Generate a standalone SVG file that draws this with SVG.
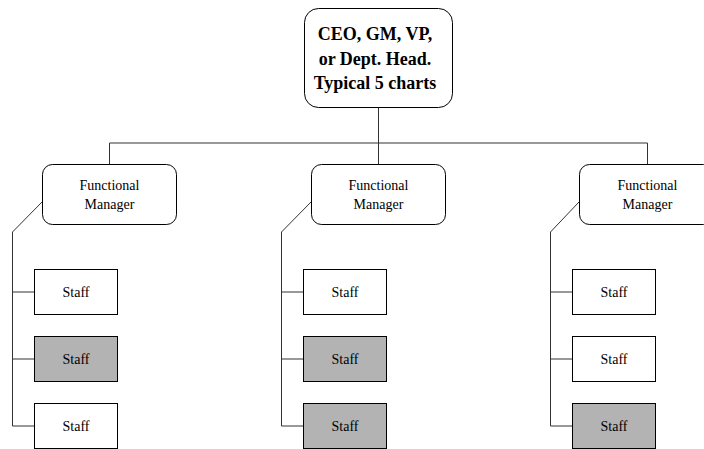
<svg xmlns="http://www.w3.org/2000/svg" width="704" height="449" viewBox="0 0 704 449">
<style>
.box{fill:#fff;stroke:#000;stroke-width:1}
.gray{fill:#b3b3b3;stroke:#000;stroke-width:1}
.t{font-family:"Liberation Serif","Times New Roman",serif;font-size:14px;fill:#000;text-anchor:middle}
.b{font-family:"Liberation Serif","Times New Roman",serif;font-size:18px;font-weight:bold;fill:#000;text-anchor:middle}
.c{fill:none;stroke:#333;stroke-width:1}
</style>
<rect width="704" height="449" fill="#fff"/>
<g id="connectors">
<path class="c" d="M378.5,108 V143 M109.5,143 H647.5 M109.5,143 V164 M378.5,143 V164 M647.5,143 V164"/>
<path class="c" d="M42,202 L12.5,232 V426 M12.5,292 H34 M12.5,359 H34 M12.5,426 H34"/>
<path class="c" d="M311,202 L281.5,232 V426 M281.5,292 H303 M281.5,359 H303 M281.5,426 H303"/>
<path class="c" d="M579,202 L550.5,232 V426 M550.5,292 H572 M550.5,359 H572 M550.5,426 H572"/>
</g>
<g id="ceo">
<rect class="box" x="304.5" y="8.5" width="148" height="99" rx="14"/>
<text class="b" x="375" y="40">CEO, GM, VP,</text>
<text class="b" x="375" y="65">or Dept. Head.</text>
<text class="b" x="375" y="89">Typical 5 charts</text>
</g>
<g id="mgr1">
<rect class="box" x="42.5" y="164.5" width="134" height="60" rx="10"/>
<text class="t" x="109.5" y="190">Functional</text>
<text class="t" x="109.5" y="209">Manager</text>
</g>
<g id="mgr2">
<rect class="box" x="311.5" y="164.5" width="134" height="60" rx="10"/>
<text class="t" x="378.5" y="190">Functional</text>
<text class="t" x="378.5" y="209">Manager</text>
</g>
<g id="mgr3">
<rect class="box" x="579.5" y="164.5" width="134" height="60" rx="10"/>
<text class="t" x="647.5" y="190">Functional</text>
<text class="t" x="647.5" y="209">Manager</text>
</g>
<g id="s1a"><rect class="box" x="34.5" y="269.5" width="83" height="45"/><text class="t" x="76" y="297">Staff</text></g>
<g id="s1b"><rect class="gray" x="34.5" y="336.5" width="83" height="45"/><text class="t" x="76" y="364">Staff</text></g>
<g id="s1c"><rect class="box" x="34.5" y="403.5" width="83" height="45"/><text class="t" x="76" y="431">Staff</text></g>
<g id="s2a"><rect class="box" x="303.5" y="269.5" width="83" height="45"/><text class="t" x="345" y="297">Staff</text></g>
<g id="s2b"><rect class="gray" x="303.5" y="336.5" width="83" height="45"/><text class="t" x="345" y="364">Staff</text></g>
<g id="s2c"><rect class="gray" x="303.5" y="403.5" width="83" height="45"/><text class="t" x="345" y="431">Staff</text></g>
<g id="s3a"><rect class="box" x="572.5" y="269.5" width="83" height="45"/><text class="t" x="614" y="297">Staff</text></g>
<g id="s3b"><rect class="box" x="572.5" y="336.5" width="83" height="45"/><text class="t" x="614" y="364">Staff</text></g>
<g id="s3c"><rect class="gray" x="572.5" y="403.5" width="83" height="45"/><text class="t" x="614" y="431">Staff</text></g>
</svg>
